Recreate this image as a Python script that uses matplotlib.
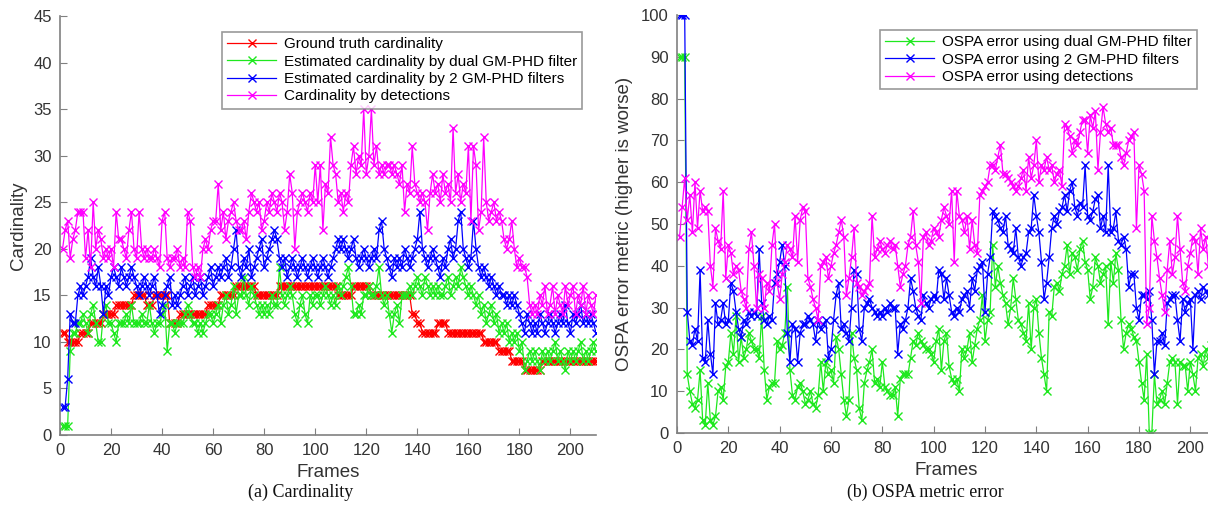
import numpy as np
import matplotlib
matplotlib.use('Agg')
import matplotlib.pyplot as plt

plt.rcParams['font.family'] = ['Liberation Sans', 'DejaVu Sans']

frames = np.arange(1, 211)

# (a) cardinality per frame
gt_card = [
    11, 11, 10, 10, 10, 10, 10, 11, 11, 11,
    11, 12, 12, 12, 12, 12, 13, 13, 13, 13,
    13, 14, 14, 14, 14, 14, 14, 14, 15, 15,
    15, 15, 15, 14, 14, 14, 15, 15, 15, 15,
    15, 15, 12, 12, 12, 12, 13, 13, 13, 13,
    13, 13, 13, 13, 13, 13, 13, 14, 14, 14,
    14, 14, 15, 15, 15, 15, 15, 15, 16, 16,
    16, 16, 16, 16, 16, 16, 15, 15, 15, 15,
    15, 15, 15, 15, 15, 16, 16, 16, 16, 16,
    16, 16, 16, 16, 16, 16, 16, 16, 16, 16,
    16, 16, 16, 16, 16, 16, 16, 16, 15, 15,
    15, 15, 15, 15, 16, 16, 16, 16, 16, 16,
    16, 15, 15, 15, 15, 15, 15, 15, 15, 15,
    15, 15, 15, 15, 15, 15, 15, 13, 13, 12,
    12, 11, 11, 11, 11, 11, 11, 12, 12, 12,
    12, 11, 11, 11, 11, 11, 11, 11, 11, 11,
    11, 11, 11, 11, 11, 10, 10, 10, 10, 10,
    10, 9, 9, 9, 9, 9, 8, 8, 8, 8,
    8, 7, 7, 7, 7, 7, 7, 7, 8, 8,
    8, 8, 8, 8, 8, 8, 8, 8, 8, 8,
    8, 8, 8, 8, 8, 8, 8, 8, 8, 8,
]
dual_card = [
    1, 1, 1, 9, 11, 11, 12, 12, 13, 12,
    11, 13, 14, 12, 10, 10, 13, 14, 12, 12,
    11, 10, 12, 12, 12, 13, 12, 14, 12, 12,
    12, 13, 12, 12, 14, 12, 11, 12, 12, 13,
    14, 9, 12, 12, 11, 12, 12, 12, 13, 14,
    13, 12, 12, 11, 12, 11, 12, 13, 13, 12,
    13, 14, 12, 14, 15, 13, 14, 16, 13, 15,
    15, 17, 15, 14, 16, 15, 14, 13, 14, 13,
    14, 13, 15, 14, 14, 18, 15, 14, 15, 16,
    15, 13, 12, 14, 15, 13, 12, 15, 14, 15,
    15, 14, 15, 16, 15, 14, 15, 14, 16, 15,
    16, 17, 18, 16, 13, 13, 14, 13, 15, 15,
    16, 15, 15, 16, 18, 15, 14, 15, 13, 11,
    13, 14, 12, 15, 15, 15, 16, 15, 16, 17,
    16, 15, 17, 16, 15, 16, 15, 16, 15, 15,
    16, 17, 15, 16, 17, 16, 18, 17, 16, 15,
    16, 15, 14, 15, 13, 14, 12, 13, 14, 12,
    13, 11, 12, 11, 12, 10, 11, 10, 11, 9,
    10, 7, 8, 9, 8, 9, 8, 7, 9, 8,
    9, 8, 9, 10, 8, 9, 8, 7, 9, 8,
    9, 8, 9, 10, 8, 9, 8, 9, 10, 9,
]
two_card = [
    3, 3, 6, 13, 12, 12, 15, 16, 15, 16,
    17, 19, 17, 16, 18, 16, 13, 16, 15, 17,
    18, 17, 16, 18, 17, 16, 17, 18, 17, 16,
    15, 16, 17, 16, 15, 16, 17, 15, 13, 14,
    15, 16, 17, 14, 15, 14, 15, 16, 17, 15,
    16, 17, 15, 16, 17, 15, 16, 17, 18, 16,
    17, 18, 17, 18, 19, 17, 18, 20, 22, 18,
    17, 19, 18, 20, 17, 18, 19, 20, 21, 18,
    19, 20, 21, 22, 21, 19, 18, 19, 17, 18,
    19, 18, 17, 18, 19, 18, 17, 18, 19, 18,
    17, 18, 19, 18, 17, 18, 19, 20, 21, 20,
    21, 20, 19, 20, 21, 19, 18, 19, 20, 19,
    18, 19, 20, 19, 22, 23, 20, 19, 18, 17,
    19, 18, 19, 18, 20, 19, 18, 19, 20, 21,
    24, 20, 19, 18, 19, 20, 19, 18, 17, 19,
    18, 20, 21, 19, 20, 23, 24, 20, 19, 18,
    19, 23, 20, 18, 17, 18, 17, 16, 17, 16,
    15, 16, 15, 15, 14, 15, 14, 15, 14, 13,
    12, 11, 13, 12, 11, 12, 11, 13, 12, 11,
    12, 13, 12, 11, 12, 13, 12, 14, 12, 11,
    13, 12, 13, 14, 12, 13, 12, 13, 12, 11,
]
det_card = [
    20, 22, 23, 19, 21, 22, 24, 24, 24, 19,
    22, 18, 25, 20, 22, 21, 19, 20, 19, 20,
    18, 24, 21, 21, 20, 19, 22, 24, 20, 19,
    24, 20, 19, 20, 19, 19, 20, 19, 18, 23,
    24, 19, 18, 19, 19, 20, 18, 19, 18, 24,
    23, 18, 17, 18, 17, 20, 21, 20, 22, 23,
    23, 27, 22, 24, 21, 23, 24, 25, 23, 22,
    22, 23, 21, 24, 26, 25, 24, 25, 22, 23,
    25, 24, 26, 25, 24, 26, 25, 22, 24, 28,
    26, 20, 24, 25, 26, 25, 24, 26, 25, 29,
    25, 29, 22, 27, 26, 32, 29, 28, 25, 26,
    24, 26, 25, 29, 31, 28, 30, 29, 35, 28,
    30, 35, 29, 31, 28, 29, 28, 29, 29, 28,
    29, 28, 27, 29, 24, 27, 26, 31, 27, 26,
    25, 26, 25, 22, 26, 28, 26, 27, 25, 28,
    26, 27, 25, 33, 26, 28, 25, 27, 26, 31,
    23, 31, 29, 22, 24, 32, 25, 23, 24, 25,
    23, 24, 23, 21, 20, 21, 23, 20, 18, 19,
    18, 18, 17, 14, 13, 14, 13, 15, 14, 16,
    13, 14, 16, 13, 15, 14, 13, 16, 14, 15,
    16, 13, 15, 14, 16, 13, 15, 14, 13, 15,
]

# (b) OSPA error per frame
ospa_dual = [
    90, 90, 90, 14, 10, 7, 6, 8, 15, 3,
    2, 12, 3, 2, 4, 10, 11, 8, 16, 17,
    24, 19, 28, 17, 23, 18, 20, 24, 22, 20,
    20, 18, 28, 15, 8, 11, 12, 12, 22, 20,
    21, 24, 35, 15, 9, 8, 11, 12, 10, 7,
    8, 10, 7, 6, 9, 17, 10, 17, 14, 15,
    12, 23, 20, 14, 8, 4, 8, 24, 18, 15,
    6, 3, 12, 15, 17, 20, 12, 13, 11, 17,
    11, 10, 9, 9, 11, 4, 13, 14, 14, 14,
    18, 22, 21, 24, 22, 21, 20, 20, 19, 17,
    22, 25, 15, 22, 24, 16, 13, 12, 13, 10,
    20, 18, 20, 24, 17, 21, 25, 27, 33, 22,
    27, 29, 45, 35, 40, 36, 33, 31, 26, 30,
    37, 32, 27, 26, 24, 22, 31, 20, 30, 32,
    24, 18, 14, 10, 29, 28, 35, 36, 34, 38,
    40, 45, 38, 43, 42, 39, 44, 46, 41, 39,
    32, 35, 42, 40, 36, 38, 40, 26, 41, 36,
    43, 39, 27, 20, 24, 26, 25, 23, 22, 17,
    12, 8, 19, 0, 0, 14, 7, 8, 10, 7,
    12, 17, 18, 17, 7, 17, 16, 16, 10, 17,
    14, 10, 18, 19, 16, 20, 18, 21, 19, 20,
]
ospa_two = [
    100, 100, 100, 29, 22, 21, 25, 22, 39, 18,
    17, 27, 19, 14, 31, 26, 27, 31, 26, 27,
    36, 34, 29, 25, 23, 27, 26, 29, 28, 29,
    28, 44, 31, 27, 26, 28, 27, 36, 38, 41,
    45, 40, 24, 17, 26, 25, 17, 24, 26, 26,
    28, 27, 26, 22, 27, 25, 26, 27, 18, 20,
    27, 33, 36, 25, 26, 24, 22, 30, 39, 38,
    25, 22, 30, 31, 32, 30, 29, 28, 29, 28,
    30, 29, 31, 30, 30, 19, 26, 25, 27, 30,
    37, 34, 30, 28, 27, 33, 31, 30, 32, 33,
    32, 39, 38, 32, 37, 33, 29, 28, 30, 29,
    32, 33, 34, 30, 37, 34, 39, 40, 41, 29,
    38, 42, 53, 52, 51, 49, 48, 52, 45, 44,
    43, 49, 42, 40, 42, 43, 48, 49, 57, 52,
    48, 41, 32, 36, 42, 49, 52, 50, 53, 54,
    57, 53, 58, 60, 54, 52, 55, 54, 64, 52,
    51, 53, 56, 57, 49, 52, 48, 64, 48, 49,
    53, 46, 45, 47, 44, 35, 38, 38, 30, 27,
    33, 33, 32, 34, 27, 14, 22, 22, 24, 21,
    31, 32, 33, 33, 27, 22, 32, 29, 31, 32,
    20, 33, 34, 32, 35, 34, 33, 35, 34, 35,
]
ospa_det = [
    47, 54, 61, 51, 57, 48, 60, 49, 58, 53,
    54, 53, 40, 35, 49, 46, 44, 58, 37, 45,
    43, 38, 40, 39, 34, 32, 30, 44, 48, 40,
    30, 38, 37, 30, 36, 34, 45, 50, 36, 32,
    38, 41, 45, 44, 42, 52, 41, 51, 54, 53,
    37, 35, 32, 30, 27, 40, 41, 42, 37, 40,
    43, 45, 48, 51, 47, 33, 37, 42, 49, 36,
    35, 33, 34, 35, 36, 52, 42, 44, 46, 44,
    43, 45, 46, 44, 45, 40, 35, 38, 40, 45,
    47, 53, 45, 41, 31, 47, 48, 45, 46, 49,
    48, 47, 51, 54, 52, 50, 58, 41, 58, 52,
    51, 48, 52, 44, 51, 45, 43, 57, 58, 59,
    60, 64, 64, 63, 66, 69, 62, 62, 61, 60,
    59, 58, 59, 61, 63, 58, 66, 61, 64, 70,
    60, 64, 63, 66, 63, 64, 60, 62, 63, 59,
    74, 73, 71, 67, 70, 69, 72, 75, 75, 67,
    76, 73, 77, 63, 72, 78, 74, 72, 73, 69,
    69, 69, 66, 64, 67, 70, 71, 72, 49, 64,
    62, 58, 26, 30, 52, 46, 42, 37, 33, 29,
    39, 46, 38, 42, 52, 44, 36, 34, 40, 43,
    47, 46, 38, 49, 44, 47, 40, 46, 42, 45,
]

RED = '#ff0000'
GREEN = '#1ee81e'
BLUE = '#0000ff'
MAGENTA = '#ff00ff'
GRAY = '#808080'
TXT = '#333333'

W, H = 1208, 516
fig = plt.figure(figsize=(W / 100, H / 100), dpi=100)


def px_axes(x0, y0, x1, y1):
    return fig.add_axes([x0 / W, (H - y1) / H, (x1 - x0) / W, (y1 - y0) / H])


def style(ax):
    for s in ['top', 'right']:
        ax.spines[s].set_visible(False)
    for s in ['left', 'bottom']:
        ax.spines[s].set_color(GRAY)
        ax.spines[s].set_linewidth(1.2)
    ax.tick_params(direction='in', length=5, color=GRAY, labelsize=12,
                   labelcolor=TXT, pad=6)
    ax.set_xlim(0, 210)
    ax.set_xticks(range(0, 201, 20))
    ax.set_xlabel('Frames', fontsize=13.5, color=TXT, labelpad=4)


kw = dict(marker='x', markersize=5.5, markeredgewidth=1, linewidth=0.9)

ax1 = px_axes(60, 16, 596, 435)
ax1.plot(frames, gt_card, color=RED, label='Ground truth cardinality', **kw)
ax1.plot(frames, dual_card, color=GREEN,
         label='Estimated cardinality by dual GM-PHD filter', **kw)
ax1.plot(frames, two_card, color=BLUE,
         label='Estimated cardinality by 2 GM-PHD filters', **kw)
ax1.plot(frames, det_card, color=MAGENTA, label='Cardinality by detections', **kw)
style(ax1)
ax1.set_ylim(0, 45)
ax1.set_yticks(range(0, 46, 5))
ax1.set_ylabel('Cardinality', fontsize=13.5, color=TXT, labelpad=4)
leg1 = ax1.legend(loc='upper left', bbox_to_anchor=(162 / 536, 1 - 16 / 419),
                  fontsize=11, frameon=True, fancybox=False, handlelength=3.2,
                  borderpad=0.35, labelspacing=0.22, handletextpad=0.5,
                  borderaxespad=0)
leg1.get_frame().set_edgecolor(GRAY)
leg1.get_frame().set_linewidth(1.2)

ax2 = px_axes(677, 15, 1216, 433)
ax2.plot(frames, ospa_dual, color=GREEN,
         label='OSPA error using dual GM-PHD filter', **kw)
ax2.plot(frames, ospa_two, color=BLUE,
         label='OSPA error using 2 GM-PHD filters', **kw)
ax2.plot(frames, ospa_det, color=MAGENTA, label='OSPA error using detections', **kw)
style(ax2)
ax2.set_ylim(0, 100)
ax2.set_yticks(range(0, 101, 10))
ax2.set_ylabel('OSPA error metric (higher is worse)', fontsize=13.5, color=TXT,
               labelpad=6)
leg2 = ax2.legend(loc='upper left', bbox_to_anchor=(203 / 539, 1 - 15 / 418),
                  fontsize=11, frameon=True, fancybox=False, handlelength=3.2,
                  borderpad=0.35, labelspacing=0.22, handletextpad=0.5,
                  borderaxespad=0)
leg2.get_frame().set_edgecolor(GRAY)
leg2.get_frame().set_linewidth(1.2)

fig.text(301 / W, 1 - 492 / H, '(a) Cardinality', ha='center', va='center',
         fontsize=13, family='Liberation Serif', color='#111111')
fig.text(925 / W, 1 - 492 / H, '(b) OSPA metric error', ha='center', va='center',
         fontsize=12.8, family='Liberation Serif', color='#111111')

fig.savefig('out.png', dpi=100)
